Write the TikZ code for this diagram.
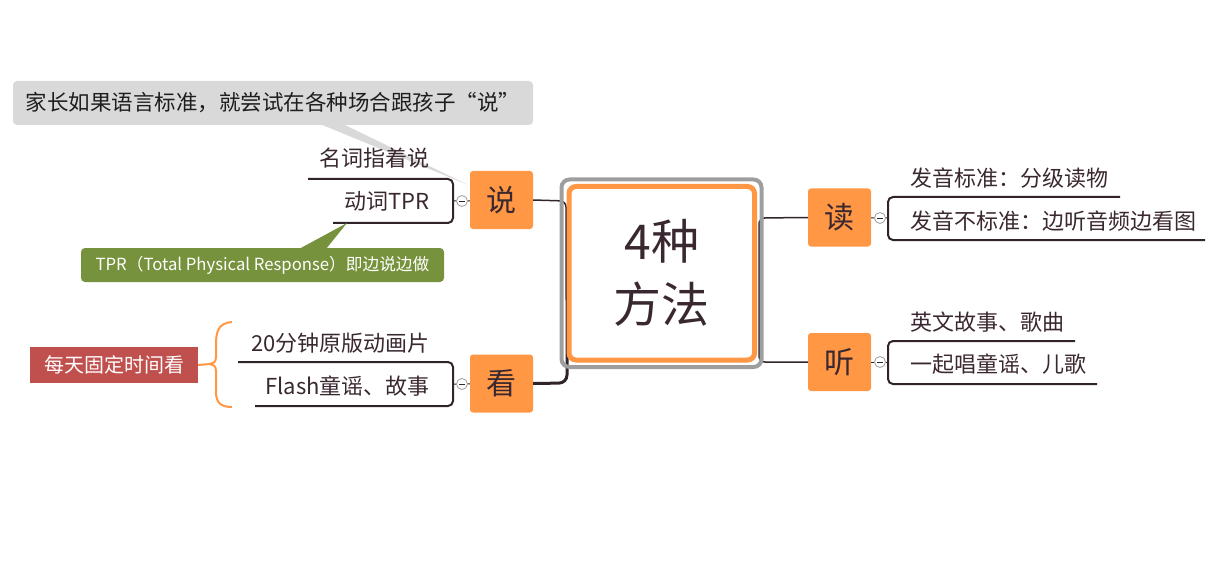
\documentclass[tikz,border=0pt]{standalone}
\usepackage{fontspec}
\setmainfont{Noto Sans CJK SC}
\usetikzlibrary{positioning,calc}
\definecolor{mmorange}{RGB}{255,151,68}
\definecolor{mmtext}{RGB}{58,40,48}
\definecolor{mmline}{RGB}{48,36,42}
\definecolor{mmframe}{RGB}{158,158,158}
\definecolor{notegray}{RGB}{217,217,217}
\definecolor{notegreen}{RGB}{118,146,60}
\definecolor{notered}{RGB}{192,80,77}
\tikzset{
  branch/.style={fill=mmorange, rounded corners=3pt, minimum width=63pt, minimum height=58pt,
    text=mmtext, font=\fontsize{30}{34}\selectfont},
  leaf/.style={text=mmtext, font=\fontsize{22}{25}\selectfont, inner sep=0pt},
  conn/.style={draw=mmline, line width=1.5pt, rounded corners=6pt},
  under/.style={draw=mmline, line width=2pt, rounded corners=5pt},
  fold/.style={circle, draw=mmframe, fill=white, minimum size=11pt, inner sep=0pt, line width=0.8pt,
    path picture={\draw[mmline, line width=0.6pt]
      ([xshift=-3pt]path picture bounding box.center) -- ([xshift=3pt]path picture bounding box.center);}},
}
\begin{document}
\begin{tikzpicture}[x=1pt,y=-1pt]
\useasboundingbox (0,0) rectangle (1207,564);
% branches
\node[branch] (shuo) at (501.5,200) {说};
\node[branch] (kan)  at (501.5,383.5) {看};
\node[branch] (du)   at (839.5,217.5) {读};
\node[branch] (ting) at (839.5,362) {听};
% root connectors, under the root box
\draw[conn] (shuo.east) -- (566,201) -- (566,300);
\draw[conn, line width=3pt, rounded corners=8pt] (kan.east) -- (567,383) -- (567,300);
\draw[conn] (du.west) -- (759,218) -- (759,362) -- (ting.west);
% root
\node[draw=mmorange, line width=5pt, rounded corners=7pt, fill=white, minimum width=185.5pt,
  minimum height=173.5pt, align=center, text=mmtext, font=\fontsize{48}{63}\selectfont]
  (root) at (661.75,273.25) {4种\\方法};
\draw[mmframe, line width=4pt, rounded corners=8pt]
  ($(root.north west)+(-5,-4.5)$) rectangle ($(root.south east)+(4.5,4.5)$);

% gray note, drawn before the leaves
\node[fill=notegray, rounded corners=4pt, minimum width=520pt, minimum height=44pt,
  text={rgb,255:red,30;green,30;blue,30}, font=\fontsize{21.5}{25}\selectfont]
  (noteShuo) at (273,103) {家长如果语言标准，就尝试在各种场合跟孩子“说”};
\fill[notegray] (320,124) -- (343,124) -- ($(shuo.north west)+(-2,14)$) -- cycle;

% 说
\node[leaf, anchor=east] (shuoA) at (430,158) {名词指着说};
\node[leaf, anchor=east] (shuoB) at (430,201) {动词TPR};
\coordinate (shuoA0) at (308,179);
\coordinate (shuoB0) at (333,223);
\coordinate (shuoJoin) at (453,201);
\node[fold] (shuoFold) at (462,201) {};
\draw[under] (shuoA0) -- (453,179) -- (453,223) -- (shuoB0);
\draw[mmline, line width=1pt] (shuoJoin) -- (shuoFold) -- (shuo);

% 看
\node[leaf, anchor=east] (kanA) at (430,343) {20分钟原版动画片};
\node[leaf, anchor=east] (kanB) at (430,386) {Flash童谣、故事};
\coordinate (kanA0) at (238,362);
\coordinate (kanB0) at (255,406);
\coordinate (kanJoin) at (453,384);
\node[fold] (kanFold) at (462,384) {};
\draw[under] (kanA0) -- (453,362) -- (453,406) -- (kanB0);
\draw[mmline, line width=1pt] (kanJoin) -- (kanFold) -- (kan);

% 读
\node[leaf, anchor=west] (duA) at (910,178) {发音标准：分级读物};
\node[leaf, anchor=west] (duB) at (910,221) {发音不标准：边听音频边看图};
\coordinate (duA0) at (1120,197);
\coordinate (duB0) at (1205,240);
\coordinate (duJoin) at (888,218);
\node[fold] (duFold) at (880,218) {};
\draw[under] (duA0) -- (888,197) -- (888,240) -- (duB0);
\draw[mmline, line width=1pt] (du) -- (duFold) -- (duJoin);

% 听
\node[leaf, anchor=west] (tingA) at (910,322) {英文故事、歌曲};
\node[leaf, anchor=west] (tingB) at (910,364) {一起唱童谣、儿歌};
\coordinate (tingA0) at (1075,341);
\coordinate (tingB0) at (1097,384);
\coordinate (tingJoin) at (888,362);
\node[fold] (tingFold) at (880,362) {};
\draw[under] (tingA0) -- (888,341) -- (888,384) -- (tingB0);
\draw[mmline, line width=1pt] (ting) -- (tingFold) -- (tingJoin);

% other notes
\node[fill=notegreen, rounded corners=4pt, minimum width=363pt, minimum height=34pt,
  text=white, font=\fontsize{16.7}{19}\selectfont]
  (noteTPR) at (262.5,265) {TPR（Total Physical Response）即边说边做};
\fill[notegreen] (299,249) -- (326,249) -- (347,223) -- cycle;

\node[fill=notered, minimum width=168pt, minimum height=36pt, text=white,
  font=\fontsize{20}{24}\selectfont] (noteKan) at (114,365) {每天固定时间看};
\coordinate (kanBrace) at (210,364);
\draw[mmorange, line width=2pt] (232,322) .. controls (218,323) and (216,332) .. (216,345)
  -- (216,357) .. controls (216,362) and (213,364) .. (kanBrace)
  .. controls (213,364) and (216,366) .. (216,371) -- (216,392)
  .. controls (216,402) and (220,407) .. (232,407);
\draw[mmorange, line width=2pt] (noteKan.east) -- (kanBrace);
\end{tikzpicture}
\end{document}
